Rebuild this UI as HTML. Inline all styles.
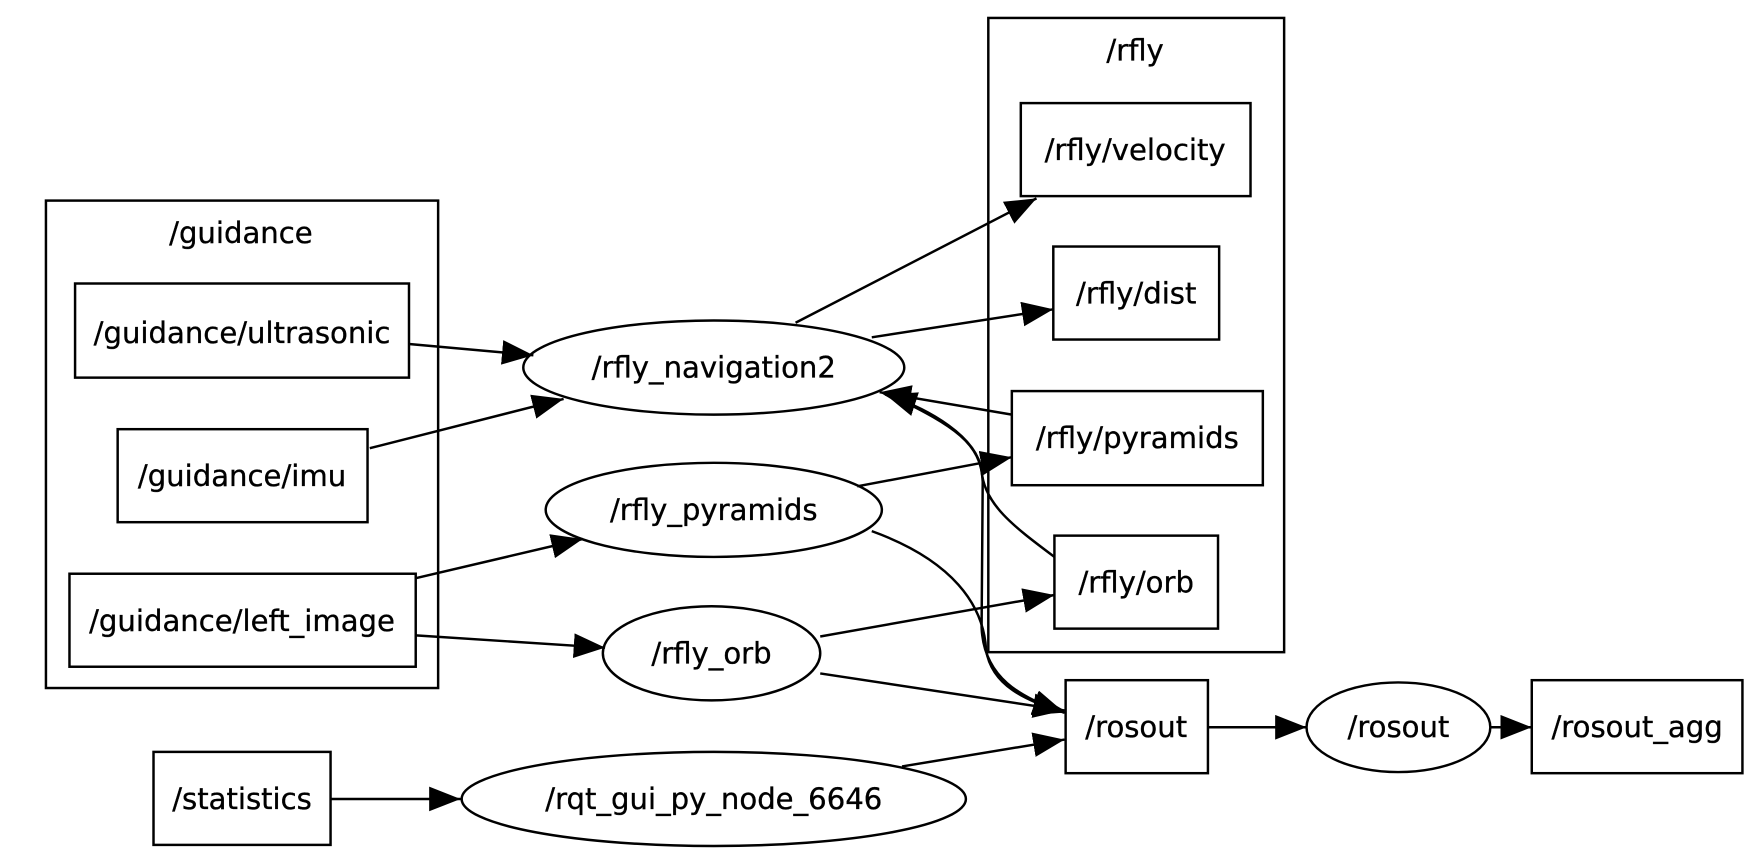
<!DOCTYPE html>
<html><head><meta charset="utf-8"><style>
html,body{margin:0;padding:0;background:#fff;}
svg{display:block;}
text{font-family:"DejaVu Sans","Liberation Sans",sans-serif;font-size:26px;fill:#000;text-anchor:middle;dominant-baseline:central;stroke:#000;stroke-width:0.3;}
</style></head><body>
<svg width="1757" height="855" viewBox="0 0 1568 763" xmlns="http://www.w3.org/2000/svg">
<defs>
<marker id="a" markerUnits="userSpaceOnUse" markerWidth="32" markerHeight="26" refX="28" refY="11" orient="auto">
<path d="M0,0 L28,11 L0,22 Z" fill="#000"/>
</marker>
</defs>
<g fill="none" stroke="#000" stroke-width="2.2">
<rect x="41" y="179" width="350" height="435"/>
<rect x="882" y="16" width="264" height="566"/>
<rect x="67" y="253" width="298" height="84"/>
<rect x="105" y="383" width="223" height="83"/>
<rect x="62" y="512" width="309" height="83"/>
<rect x="137" y="671" width="158" height="83"/>
<ellipse cx="637" cy="328" rx="170" ry="42"/>
<ellipse cx="637" cy="455" rx="150" ry="42"/>
<ellipse cx="635" cy="583" rx="97" ry="42"/>
<ellipse cx="637" cy="713" rx="225" ry="42"/>
<rect x="911" y="92" width="205" height="83"/>
<rect x="940" y="220" width="148" height="83"/>
<rect x="903" y="349" width="224" height="84"/>
<rect x="941" y="478" width="146" height="83"/>
<rect x="951" y="607" width="127" height="83"/>
<ellipse cx="1248" cy="649" rx="82" ry="40"/>
<rect x="1367" y="607" width="188" height="83"/>
</g>
<g fill="none" stroke="#000" stroke-width="2.2" marker-end="url(#a)">
<path d="M365,307 L476,317"/>
<path d="M330,400 L503,356"/>
<path d="M371,516 L520,481"/>
<path d="M371,567 L540,578"/>
<path d="M295,713 L411,713"/>
<path d="M710,288 L925,177"/>
<path d="M778,301 L940,276"/>
<path d="M765,434 L903,408"/>
<path d="M732,568 L941,531"/>
<path d="M903,370 L785,350"/>
<path d="M941,497 C905,470 878,450 876,420 C872,390 830,365 790,352"/>
<path d="M800,355 C850,380 876,395 877,430 L876,560 C878,605 910,622 950,636"/>
<path d="M778,474 C850,500 878,540 880,580 C885,612 915,625 950,636"/>
<path d="M732,601 L950,634"/>
<path d="M805,684 L950,660"/>
<path d="M1078,649 L1166,649"/>
<path d="M1330,649 L1367,649"/>
</g>
<text x="215" y="208">/guidance</text>
<text x="1013" y="45">/rfly</text>
<text x="216" y="297">/guidance/ultrasonic</text>
<text x="216" y="425">/guidance/imu</text>
<text x="216" y="554">/guidance/left_image</text>
<text x="216" y="713">/statistics</text>
<text x="637" y="328">/rfly_navigation2</text>
<text x="637" y="455">/rfly_pyramids</text>
<text x="635" y="583">/rfly_orb</text>
<text x="637" y="713">/rqt_gui_py_node_6646</text>
<text x="1013" y="134">/rfly/velocity</text>
<text x="1014" y="262">/rfly/dist</text>
<text x="1015" y="391">/rfly/pyramids</text>
<text x="1014" y="520">/rfly/orb</text>
<text x="1014" y="649">/rosout</text>
<text x="1248" y="649">/rosout</text>
<text x="1461" y="649">/rosout_agg</text>
</svg>
</body></html>
